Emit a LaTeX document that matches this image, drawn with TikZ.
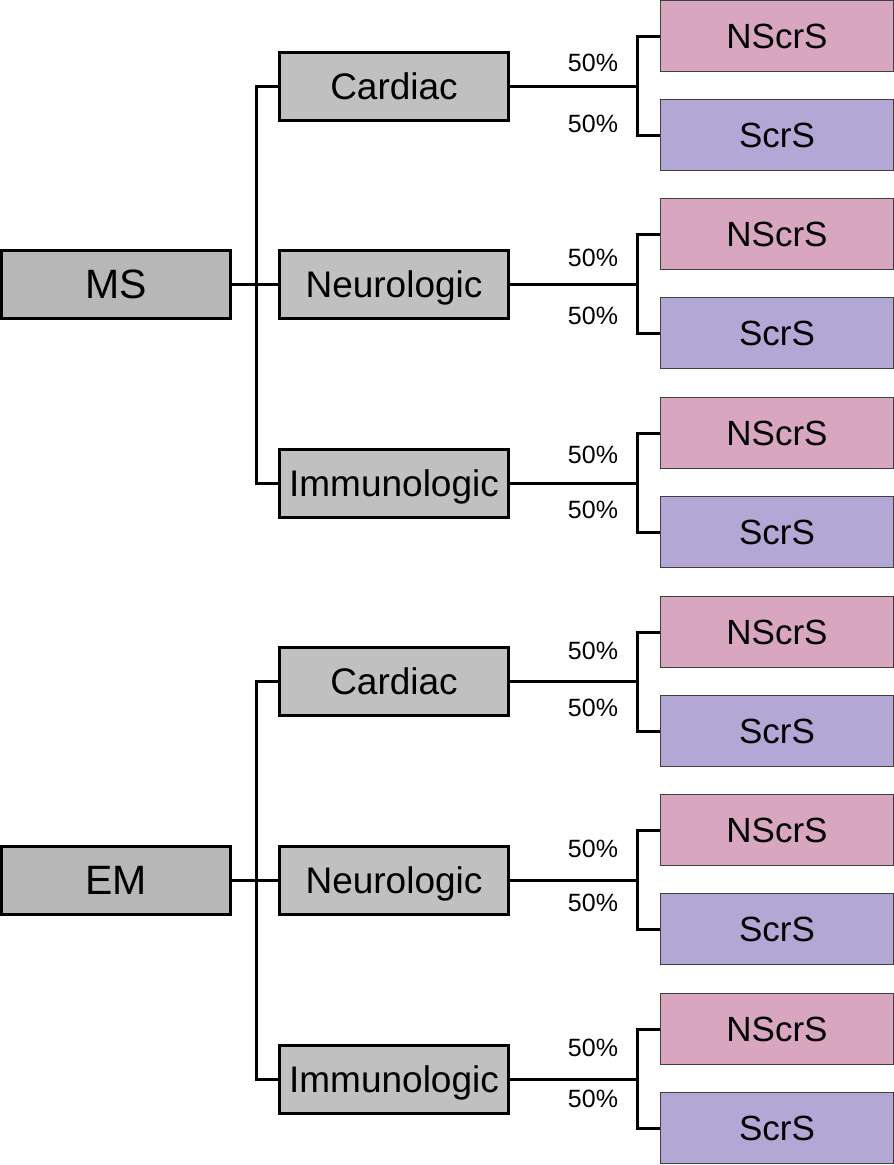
\documentclass[tikz,border=0pt]{standalone}
\usepackage{fontspec}
\setmainfont{Liberation Sans}
\definecolor{rootgray}{HTML}{B7B7B7}
\definecolor{midgray}{HTML}{C0C0C0}
\definecolor{nscrs}{HTML}{D8A6BE}
\definecolor{scrs}{HTML}{B3A7D5}
\definecolor{leafedge}{HTML}{404040}
\begin{document}
\begin{tikzpicture}[x=1pt,y=-1pt,
  capbox/.style={inner sep=0pt,text depth=0pt},
  rootbox/.style={capbox,text height=29.4pt,draw=black,line width=3pt,fill=rootgray,minimum width=229pt,minimum height=68pt,font=\fontsize{41}{41}\selectfont},
  midbox/.style={capbox,text height=26.5pt,draw=black,line width=3pt,fill=midgray,minimum width=229pt,minimum height=68pt,font=\fontsize{37}{37}\selectfont},
  leafbox/.style={capbox,text height=25.1pt,draw=leafedge,line width=1pt,minimum width=233pt,minimum height=71pt,font=\fontsize{35}{35}\selectfont},
  nbox/.style={leafbox,fill=nscrs},
  sbox/.style={leafbox,fill=scrs},
  pct/.style={capbox,text height=17.9pt,font=\fontsize{25}{25}\selectfont},
  conn/.style={line width=3pt,draw=black}]
\useasboundingbox (0,0) rectangle (894,1165);
% roots
\node[rootbox] (ms) at (116,284) {MS};
\node[rootbox] (em) at (116,880) {EM};
% middle boxes
\node[midbox] (c1) at (394,86) {Cardiac};
\node[midbox] (n1) at (394,284) {Neurologic};
\node[midbox] (i1) at (394,483) {Immunologic};
\node[midbox] (c2) at (394,681) {Cardiac};
\node[midbox] (n2) at (394,880) {Neurologic};
\node[midbox] (i2) at (394,1079) {Immunologic};
% leaves
\foreach \nm/\y/\lbl/\st in {a1/36/NScrS/nbox, b1/135/ScrS/sbox, a2/234/NScrS/nbox, b2/333/ScrS/sbox, a3/433/NScrS/nbox, b3/532/ScrS/sbox, a4/632/NScrS/nbox, b4/731/ScrS/sbox, a5/830/NScrS/nbox, b5/929/ScrS/sbox, a6/1029/NScrS/nbox, b6/1128/ScrS/sbox}
  \node[\st] (\nm) at (777,\y) {\lbl};
% root trunks
\coordinate (t1) at (256,284);
\coordinate (t2) at (256,880);
\draw[conn] (ms.east) -- (n1.west);
\draw[conn,line cap=rect] (c1.west) -| (t1) |- (i1.west);
\draw[conn] (em.east) -- (n2.west);
\draw[conn,line cap=rect] (c2.west) -| (t2) |- (i2.west);
% branches
\foreach \m/\a/\b/\ya/\yb in {c1/a1/b1/63/124, n1/a2/b2/258/316, i1/a3/b3/455/510, c2/a4/b4/651/708, n2/a5/b5/849/903, i2/a6/b6/1048/1099}{
  \coordinate (j\m) at (637,0);
  \draw[conn] (\m.east) -- (\m.east -| j\m);
  \draw[conn] (\a.west) -| (j\m |- \a.west) -- (j\m |- \b.west) -- (\b.west);
  \node[pct] (p\m u) at (593,\ya) {50\%};
  \node[pct] (p\m d) at (593,\yb) {50\%};
}
\end{tikzpicture}
\end{document}
